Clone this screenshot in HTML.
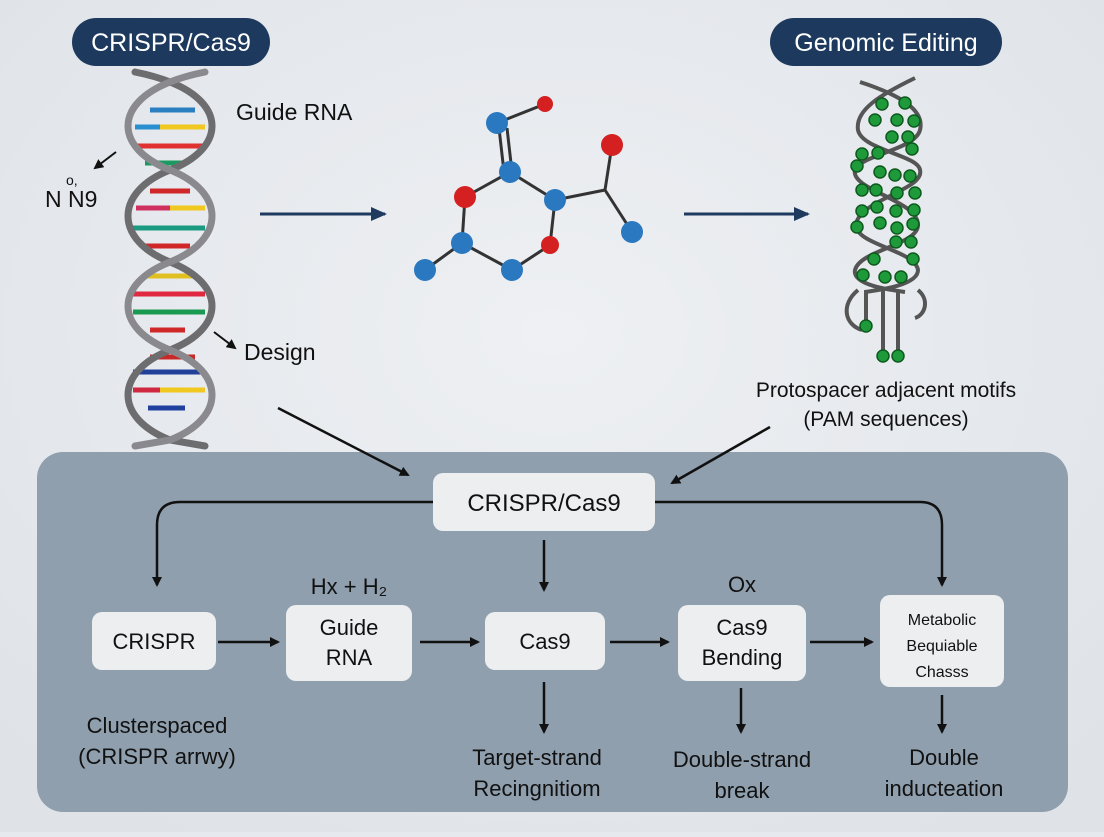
<!DOCTYPE html>
<html><head><style>
body{margin:0;width:1104px;height:832px;overflow:hidden;background:#e6e9ee;font-family:"Liberation Sans",sans-serif;}
</style></head><body>
<svg width="1104" height="832" viewBox="0 0 1104 832" xmlns="http://www.w3.org/2000/svg" font-family="Liberation Sans, sans-serif">
<defs>
<radialGradient id="bg" cx="50%" cy="40%" r="70%"><stop offset="0" stop-color="#eef0f3"/><stop offset="1" stop-color="#dfe3e8"/></radialGradient>
<marker id="ah" markerWidth="10" markerHeight="10" refX="8" refY="5" orient="auto" markerUnits="userSpaceOnUse"><path d="M0,0 L10,5 L0,10 z" fill="#111"/></marker>
<marker id="ahb" markerWidth="16" markerHeight="16" refX="14" refY="8" orient="auto" markerUnits="userSpaceOnUse"><path d="M0,1 L16,8 L0,15 z" fill="#1e3a5f"/></marker>
</defs>
<rect width="1104" height="832" fill="url(#bg)"/>
<rect x="72" y="18" width="198" height="48" rx="24" fill="#1d3a5e"/>
<text x="171" y="51" text-anchor="middle" font-size="25" fill="#fff">CRISPR/Cas9</text>
<rect x="770" y="18" width="232" height="48" rx="24" fill="#1d3a5e"/>
<text x="886" y="51" text-anchor="middle" font-size="25" fill="#fff">Genomic Editing</text>

<!-- left DNA rungs -->
<g stroke-width="5">
<line x1="150" y1="110" x2="195" y2="110" stroke="#2a7fc0"/>
<line x1="135" y1="127" x2="160" y2="127" stroke="#2a8fd0"/><line x1="160" y1="127" x2="205" y2="127" stroke="#f0c820"/>
<line x1="133" y1="146" x2="205" y2="146" stroke="#e03030"/>
<line x1="145" y1="163" x2="185" y2="163" stroke="#1a9a60"/>
<line x1="150" y1="191" x2="190" y2="191" stroke="#d02828"/>
<line x1="136" y1="208" x2="170" y2="208" stroke="#d03060"/><line x1="170" y1="208" x2="205" y2="208" stroke="#f0c820"/>
<line x1="132" y1="228" x2="205" y2="228" stroke="#1a9a80"/>
<line x1="145" y1="246" x2="190" y2="246" stroke="#d02828"/>
<line x1="148" y1="276" x2="195" y2="276" stroke="#e0c020"/>
<line x1="133" y1="294" x2="205" y2="294" stroke="#e02840"/>
<line x1="133" y1="312" x2="205" y2="312" stroke="#1a9a50"/>
<line x1="150" y1="330" x2="185" y2="330" stroke="#d02828"/>
<line x1="150" y1="357" x2="195" y2="357" stroke="#c82828"/>
<line x1="133" y1="372" x2="205" y2="372" stroke="#20409a"/>
<line x1="133" y1="390" x2="160" y2="390" stroke="#d02840"/><line x1="160" y1="390" x2="205" y2="390" stroke="#f0c820"/>
<line x1="148" y1="408" x2="185" y2="408" stroke="#2040a0"/>
</g>
<g fill="none" stroke-width="7" stroke-linecap="round">
<path d="M135,72 Q155,76 170,82 C226,104 226,148 170,170 C114,192 114,240 170,262 C226,284 226,328 170,350 C114,372 114,418 170,440 L205,446" stroke="#6d6d70"/>
<path d="M205,72 Q185,76 170,82 C114,104 114,148 170,170 C226,192 226,240 170,262 C114,284 114,328 170,350 C226,372 226,418 170,440 L135,446" stroke="#8a8a8e"/>
</g>
<text x="236" y="120" font-size="23" fill="#111">Guide RNA</text>
<line x1="116" y1="152" x2="95" y2="168" stroke="#111" stroke-width="2" marker-end="url(#ah)"/>
<text x="66" y="185" font-size="14" fill="#111">o,</text>
<text x="45" y="207" font-size="23" fill="#111">N N9</text>
<line x1="214" y1="332" x2="235" y2="348" stroke="#111" stroke-width="2" marker-end="url(#ah)"/>
<text x="244" y="360" font-size="23" fill="#111">Design</text>

<line x1="260" y1="214" x2="385" y2="214" stroke="#1e3a5f" stroke-width="3" marker-end="url(#ahb)"/>
<line x1="684" y1="214" x2="808" y2="214" stroke="#1e3a5f" stroke-width="3" marker-end="url(#ahb)"/>

<!-- molecule -->
<g stroke="#333" stroke-width="3">
<line x1="497" y1="123" x2="545" y2="104"/>
<line x1="507" y1="128" x2="512" y2="172"/><line x1="499" y1="128" x2="504" y2="172"/>
<line x1="510" y1="172" x2="465" y2="197"/><line x1="510" y1="172" x2="555" y2="200"/>
<line x1="465" y1="197" x2="462" y2="243"/><line x1="462" y1="243" x2="425" y2="270"/>
<line x1="462" y1="243" x2="512" y2="270"/><line x1="512" y1="270" x2="550" y2="245"/>
<line x1="550" y1="245" x2="555" y2="200"/><line x1="555" y1="200" x2="605" y2="190"/>
<line x1="605" y1="190" x2="612" y2="145"/><line x1="605" y1="190" x2="632" y2="232"/>
</g>
<g>
<circle cx="545" cy="104" r="8" fill="#d42020"/>
<circle cx="497" cy="123" r="11" fill="#2a78c0"/>
<circle cx="510" cy="172" r="11" fill="#2a78c0"/>
<circle cx="465" cy="197" r="11" fill="#d42020"/>
<circle cx="555" cy="200" r="11" fill="#2a78c0"/>
<circle cx="612" cy="145" r="11" fill="#d42020"/>
<circle cx="632" cy="232" r="11" fill="#2a78c0"/>
<circle cx="462" cy="243" r="11" fill="#2a78c0"/>
<circle cx="425" cy="270" r="11" fill="#2a78c0"/>
<circle cx="512" cy="270" r="11" fill="#2a78c0"/>
<circle cx="550" cy="245" r="9" fill="#d42020"/>
</g>

<!-- right DNA -->
<g fill="none" stroke-width="4" stroke="#555">
<path d="M860,82 C900,95 925,110 920,130 C915,150 860,155 855,170 C850,190 918,200 918,225 C918,245 860,250 855,270 C852,285 890,290 905,292"/>
<path d="M915,78 C880,95 855,110 858,130 C862,150 918,155 920,170 C925,190 858,200 856,225 C856,245 915,250 918,270 C918,285 880,290 865,292"/>
<path d="M858,290 C840,305 845,325 862,330"/><path d="M918,290 C930,300 925,315 915,318"/>
<line x1="866" y1="290" x2="866" y2="325"/><line x1="883" y1="290" x2="883" y2="355"/><line x1="898" y1="290" x2="898" y2="355"/>
</g>
<g fill="#1f9a3a" stroke="#0d5a1e" stroke-width="1.5">
<circle cx="882" cy="104" r="6"/><circle cx="905" cy="103" r="6"/>
<circle cx="875" cy="120" r="6"/><circle cx="897" cy="120" r="6"/><circle cx="914" cy="121" r="6"/>
<circle cx="892" cy="137" r="6"/><circle cx="908" cy="137" r="6"/><circle cx="912" cy="149" r="6"/>
<circle cx="862" cy="154" r="6"/><circle cx="878" cy="153" r="6"/><circle cx="857" cy="166" r="6"/>
<circle cx="880" cy="172" r="6"/><circle cx="895" cy="175" r="6"/><circle cx="910" cy="176" r="6"/>
<circle cx="862" cy="190" r="6"/><circle cx="876" cy="190" r="6"/><circle cx="897" cy="193" r="6"/><circle cx="915" cy="193" r="6"/>
<circle cx="862" cy="211" r="6"/><circle cx="877" cy="207" r="6"/><circle cx="896" cy="211" r="6"/><circle cx="914" cy="210" r="6"/>
<circle cx="857" cy="227" r="6"/><circle cx="880" cy="223" r="6"/><circle cx="897" cy="228" r="6"/><circle cx="913" cy="224" r="6"/>
<circle cx="896" cy="242" r="6"/><circle cx="911" cy="242" r="6"/>
<circle cx="874" cy="259" r="6"/><circle cx="913" cy="259" r="6"/>
<circle cx="863" cy="275" r="6"/><circle cx="885" cy="277" r="6"/><circle cx="901" cy="277" r="6"/>
<circle cx="866" cy="326" r="6"/><circle cx="883" cy="356" r="6"/><circle cx="898" cy="356" r="6"/>
</g>
<text x="886" y="397" text-anchor="middle" font-size="21" fill="#111">Protospacer adjacent motifs</text>
<text x="886" y="426" text-anchor="middle" font-size="21" fill="#111">(PAM sequences)</text>

<!-- panel -->
<rect x="37" y="452" width="1031" height="360" rx="26" fill="#8f9fae"/>
<line x1="278" y1="408" x2="408" y2="475" stroke="#111" stroke-width="2.5" marker-end="url(#ah)"/>
<line x1="770" y1="427" x2="672" y2="483" stroke="#111" stroke-width="2.5" marker-end="url(#ah)"/>

<rect x="433" y="473" width="222" height="58" rx="10" fill="#eceef0"/>
<text x="544" y="511" text-anchor="middle" font-size="24" fill="#111">CRISPR/Cas9</text>
<g fill="none" stroke="#111" stroke-width="2.5">
<path d="M433,502 L180,502 Q157,502 157,525 L157,585" marker-end="url(#ah)"/>
<path d="M655,502 L920,502 Q942,502 942,525 L942,585" marker-end="url(#ah)"/>
<line x1="544" y1="540" x2="544" y2="590" marker-end="url(#ah)"/>
<line x1="218" y1="642" x2="278" y2="642" marker-end="url(#ah)"/>
<line x1="420" y1="642" x2="478" y2="642" marker-end="url(#ah)"/>
<line x1="610" y1="642" x2="668" y2="642" marker-end="url(#ah)"/>
<line x1="810" y1="642" x2="872" y2="642" marker-end="url(#ah)"/>
<line x1="544" y1="682" x2="544" y2="732" marker-end="url(#ah)"/>
<line x1="741" y1="688" x2="741" y2="732" marker-end="url(#ah)"/>
<line x1="942" y1="695" x2="942" y2="732" marker-end="url(#ah)"/>
</g>
<g fill="#eceef0">
<rect x="92" y="612" width="124" height="58" rx="10"/>
<rect x="286" y="605" width="126" height="76" rx="10"/>
<rect x="485" y="612" width="120" height="58" rx="10"/>
<rect x="678" y="605" width="128" height="76" rx="10"/>
<rect x="880" y="595" width="124" height="92" rx="10"/>
</g>
<g font-size="22" fill="#111" text-anchor="middle">
<text x="154" y="649">CRISPR</text>
<text x="349" y="635">Guide</text><text x="349" y="665">RNA</text>
<text x="545" y="649">Cas9</text>
<text x="742" y="635">Cas9</text><text x="742" y="665">Bending</text>
<text x="942" y="625" font-size="16">Metabolic</text>
<text x="942" y="651" font-size="16">Bequiable</text>
<text x="942" y="677" font-size="16">Chasss</text>
<text x="349" y="594">Hx + H₂</text>
<text x="742" y="592">Ox</text>
<text x="157" y="733">Clusterspaced</text>
<text x="157" y="764">(CRISPR arrwy)</text>
<text x="537" y="765">Target-strand</text>
<text x="537" y="796">Recingnitiom</text>
<text x="742" y="767">Double-strand</text>
<text x="742" y="798">break</text>
<text x="944" y="765">Double</text>
<text x="944" y="796">inducteation</text>
</g>
</svg>
</body></html>
